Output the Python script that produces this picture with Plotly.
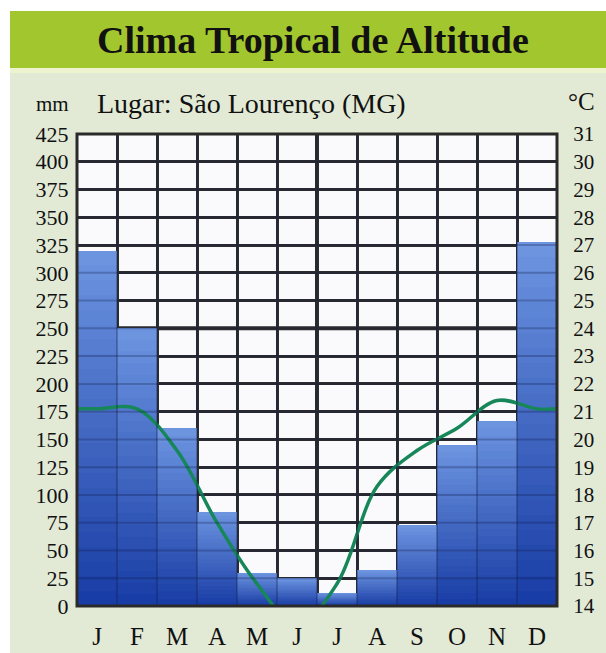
import plotly.graph_objects as go

# ---------------- data ----------------
months = ["J", "F", "M", "A", "M", "J", "J", "A", "S", "O", "N", "D"]
precip_mm = [320, 250, 160, 85, 30, 25, 12, 32, 73, 145, 167, 328]
temp_c = [21.1, 21.1, 19.6, 17.0, 14.8, 13.3, 14.8, 18.3, 19.6, 20.4, 21.4, 21.1]
mm_ticks = list(range(0, 426, 25))
c_ticks = list(range(14, 32))

title_text = "Clima Tropical de Altitude"
place_text = "Lugar: São Lourenço (MG)"

# ---------------- geometry helpers ----------------
W, H = 606, 653
L, R, T, B = 77, 557, 134, 606  # plot area in pixels


def px(x):
    return (x - L) / (R - L)


def py(y):
    return (B - y) / (B - T)


FONT = "Liberation Serif"
xs = list(range(len(months)))

fig = go.Figure()

# gradient bars: stacked slices, colour interpolated from dark (bottom) to light (top)
N = 24
c_bot = (24, 60, 165)
c_top = (110, 150, 225)
for k in range(N):
    f = (k + 0.5) / N
    col = "rgb(%d,%d,%d)" % tuple(int(c_bot[i] + (c_top[i] - c_bot[i]) * f) for i in range(3))
    fig.add_trace(go.Bar(
        x=xs,
        y=[v / N for v in precip_mm],
        base=[v * k / N for v in precip_mm],
        width=1.0,
        marker=dict(color=col, line=dict(width=0)),
        showlegend=False,
        hoverinfo="skip",
    ))

# temperature line (cyclic ends: mean of Dec and Jan at the chart edges)
edge = (temp_c[0] + temp_c[-1]) / 2
fig.add_trace(go.Scatter(
    x=[-0.5] + xs + [len(months) - 0.5],
    y=[edge] + temp_c + [edge],
    mode="lines",
    line=dict(color="#17875a", width=3.5, shape="spline", smoothing=1.0),
    yaxis="y2",
    showlegend=False,
))

shapes = []
# page background: white, title band, pale panel, white plot area
shapes.append(dict(type="rect", xref="paper", yref="paper", x0=px(10), x1=px(620), y0=py(68), y1=py(670),
                   fillcolor="#e2ead6", line=dict(width=0), layer="below"))
shapes.append(dict(type="rect", xref="paper", yref="paper", x0=px(10), x1=px(620), y0=py(68), y1=py(73),
                   fillcolor="#eef3cf", line=dict(width=0), layer="below"))
shapes.append(dict(type="rect", xref="paper", yref="paper", x0=px(10), x1=px(620), y0=py(11), y1=py(68),
                   fillcolor="#a2c62e", line=dict(width=0), layer="below"))
shapes.append(dict(type="rect", xref="paper", yref="paper", x0=0, x1=1, y0=0, y1=1,
                   fillcolor="#fafafc", line=dict(width=0), layer="below"))

# faint grid visible through the bars
for v in mm_ticks[1:-1]:
    shapes.append(dict(type="line", xref="x", yref="y", x0=-0.5, x1=len(months) - 0.5, y0=v, y1=v,
                       line=dict(color="rgba(15,25,70,0.28)", width=2), layer="above"))
for i in range(1, len(months)):
    shapes.append(dict(type="line", xref="x", yref="y", x0=i - 0.5, x1=i - 0.5, y0=0, y1=425,
                       line=dict(color="rgba(15,25,70,0.30)", width=2), layer="above"))
# heavier reference lines (250 mm, mid-year)
shapes.append(dict(type="line", xref="x", yref="y", x0=-0.5, x1=len(months) - 0.5, y0=250, y1=250,
                   line=dict(color="#2a2a2a", width=4), layer="below"))
shapes.append(dict(type="line", xref="x", yref="y", x0=5.5, x1=5.5, y0=0, y1=425,
                   line=dict(color="#2a2a2a", width=4), layer="below"))
# frame
shapes.append(dict(type="rect", xref="paper", yref="paper", x0=0, x1=1, y0=0, y1=1,
                   line=dict(color="#2a2a2a", width=3), layer="above"))

annotations = [
    dict(text="<b>" + title_text + "</b>", x=px(313), y=py(40), xref="paper", yref="paper",
         showarrow=False, font=dict(family=FONT, size=38, color="#111"), xanchor="center", yanchor="middle"),
    dict(text="mm", x=px(52), y=py(104), xref="paper", yref="paper", showarrow=False,
         font=dict(family=FONT, size=21, color="#111"), xanchor="center", yanchor="middle"),
    dict(text=place_text, x=px(95), y=py(103), xref="paper", yref="paper", showarrow=False,
         font=dict(family=FONT, size=28, color="#111"), xanchor="left", yanchor="middle"),
    dict(text="°C", x=px(581), y=py(101), xref="paper", yref="paper", showarrow=False,
         font=dict(family=FONT, size=25, color="#111"), xanchor="center", yanchor="middle"),
]

fig.update_layout(
    width=W, height=H,
    autosize=False,
    margin=dict(l=L, r=W - R, t=T, b=H - B, pad=0, autoexpand=False),
    paper_bgcolor="white",
    plot_bgcolor="#fafafc",
    barmode="overlay",
    bargap=0,
    shapes=shapes,
    annotations=annotations,
    font=dict(family=FONT, color="#111"),
    xaxis=dict(
        range=[-0.5, len(months) - 0.5],
        tickvals=xs, ticktext=months,
        showgrid=False, zeroline=False, automargin=False,
        ticks="outside", ticklen=8, tickcolor="rgba(0,0,0,0)",
        tickfont=dict(family=FONT, size=25, color="#111"),
        minor=dict(tick0=-0.5, dtick=1, showgrid=True, gridcolor="#2e2e2e", gridwidth=3),
        fixedrange=True,
    ),
    yaxis=dict(
        range=[0, 425],
        tickvals=mm_ticks,
        showgrid=True, gridcolor="#2e2e2e", gridwidth=3,
        zeroline=False, automargin=False,
        ticks="outside", ticklen=3, tickcolor="rgba(0,0,0,0)",
        tickfont=dict(family=FONT, size=22, color="#111"),
    ),
    yaxis2=dict(
        range=[14, 31],
        tickvals=c_ticks,
        overlaying="y", side="right",
        showgrid=False, zeroline=False, automargin=False,
        ticks="outside", ticklen=11, tickcolor="rgba(0,0,0,0)",
        tickfont=dict(family=FONT, size=21, color="#111"),
    ),
)

fig.write_html(
    "out.html",
    config={"displayModeBar": False, "staticPlot": True},
    post_script="document.body.style.margin='0';document.body.style.overflow='hidden';",
)
